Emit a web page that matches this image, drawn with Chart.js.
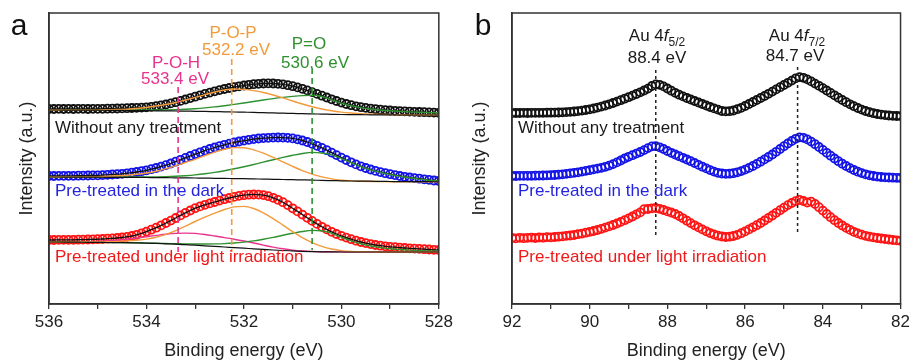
<!DOCTYPE html>
<html><head><meta charset="utf-8">
<script src="https://cdn.jsdelivr.net/npm/chart.js@4.4.1/dist/chart.umd.min.js"></script>
<style>
html,body{margin:0;padding:0;background:#fff;width:913px;height:362px;overflow:hidden}
#wa{position:absolute;left:0;top:0;width:456px;height:362px}
#wb{position:absolute;left:456px;top:0;width:457px;height:362px}
</style></head><body>
<div id="wa"><canvas id="ca" width="456" height="362"></canvas></div>
<div id="wb"><canvas id="cb" width="457" height="362"></canvas></div>
<script>
// ---------- Panel a : O 1s (536 -> 528 eV) ----------
const A_START = 536, A_END = 528, A_STEP = 0.1, A_FIT_STEP = 0.2;
const aBlack = [
195.0,195.0,195.1,195.0,195.1,195.0,195.1,195.1,195.0,195.1,
195.1,195.2,195.3,195.4,195.5,195.6,195.8,196.0,196.2,196.4,
196.7,197.2,197.8,198.6,199.5,200.6,201.8,203.1,204.5,205.9,
207.3,208.7,210.1,211.4,212.7,213.9,215.0,216.0,216.9,217.7,
218.5,219.2,219.8,220.2,220.5,220.6,220.5,220.2,219.6,218.8,
217.8,216.6,215.2,213.6,211.9,210.1,208.3,206.5,204.7,203.0,
201.4,200.0,198.8,197.7,196.8,196.1,195.4,194.8,194.3,193.9,
193.5,193.2,192.9,192.6,192.4,192.2,192.0,191.8,191.6,191.4,
191.2];
const aBlue = [
128.0,128.0,128.1,128.1,128.2,128.2,128.3,128.4,128.5,128.6,
128.7,128.9,129.2,129.5,129.8,130.2,130.7,131.3,132.0,132.8,
133.7,134.8,136.0,137.4,138.9,140.5,142.3,144.2,146.1,148.0,
149.9,151.7,153.4,155.0,156.5,157.9,159.2,160.4,161.5,162.5,
163.4,164.2,164.9,165.5,165.9,166.2,166.4,166.5,166.4,166.1,
165.6,164.7,163.5,162.0,160.2,158.2,156.1,153.8,151.4,148.9,
146.4,144.0,141.7,139.6,137.7,136.0,134.5,133.1,131.9,130.8,
129.8,128.9,128.0,127.2,126.5,125.9,125.3,124.7,124.1,123.5,
123.0];
const aRed = [
64.0,64.0,64.1,64.1,64.2,64.2,64.3,64.4,64.5,64.6,
64.8,65.0,65.3,65.6,66.0,66.5,67.1,68.0,69.2,70.7,
72.4,74.3,76.3,78.6,81.0,83.4,86.0,88.6,91.1,93.5,
95.8,97.6,99.2,100.6,102.0,103.4,104.8,106.0,107.1,108.1,
108.8,109.3,109.5,109.4,108.9,107.8,106.2,104.2,101.8,98.9,
95.7,92.6,89.4,86.2,83.1,80.1,77.2,74.6,72.2,70.0,
68.1,66.4,64.8,63.3,62.0,60.9,59.9,59.0,58.3,57.7,
57.2,56.8,56.4,56.0,55.7,55.4,55.1,54.8,54.5,54.2,
54.0];
// fitted components (0.2 eV grid)
const aBlackBg = [194.0,194.0,193.9,193.9,193.8, 193.8,193.7,193.6,193.5,193.4, 193.3,193.2,193.1,193.0,192.9, 192.7,192.6,192.4,192.2,192.0, 191.8,191.6,191.3,191.1,190.8, 190.6,190.3,190.1,189.9,189.7, 189.5,189.4,189.3,189.2,189.1, 189.1,189.0,189.0,189.0,189.0, 189.0];
const aBlackPOP = [194.0,194.0,194.0,194.0,194.1, 194.1,194.3,194.5,194.9,195.5, 196.5,198.0,199.5,201.5,204.0, 206.6,209.3,212.0,214.0,215.0, 214.6,213.4,211.5,209.0,206.1, 203.0,200.0,197.3,195.0,193.2, 191.9,191.0,190.3,189.9,189.6, 189.4,189.2,189.1,189.0,189.0, 189.0];
const aBlackPO = [194.0,194.0,194.0,194.0,194.0, 194.0,194.0,194.0,194.0,194.0, 194.0,194.0,194.1,194.3,194.7, 195.3,196.1,197.1,198.3,199.6, 201.0,202.5,204.0,205.4,206.6, 207.6,208.4,208.8,207.5,204.2, 200.8,198.3,196.4,195.0,194.0, 193.2,192.6,192.1,191.7,191.4, 191.2];
const aBlueBg = [127.0,127.0,126.9,126.9,126.8, 126.8,126.7,126.7,126.6,126.6, 126.5,126.4,126.3,126.2,126.1, 126.0,125.9,125.7,125.6,125.4, 125.3,125.1,124.9,124.7,124.5, 124.3,124.1,123.9,123.6,123.4, 123.2,123.0,122.9,122.8,122.6, 122.5,122.4,122.4,122.3,122.3, 122.2];
const aBluePOP = [127.0,127.0,127.0,127.1,127.2, 127.4,127.7,128.2,128.8,129.7, 131.0,132.8,135.3,138.3,141.5, 144.7,148.4,151.9,154.8,156.4, 156.3,154.2,150.8,146.6,142.1, 137.6,133.4,129.9,127.1,125.1, 123.8,123.1,122.7,122.5,122.4, 122.3,122.2,122.2,122.2,122.2, 122.2];
const aBluePO = [127.0,127.0,127.0,127.0,127.0, 127.0,127.0,127.0,127.0,127.0, 127.0,127.1,127.3,127.7,128.3, 129.1,130.2,131.6,133.3,135.2, 137.3,139.5,141.9,144.3,146.6, 148.7,150.5,151.6,151.0,149.2, 145.6,141.3,137.4,134.2,131.6, 129.5,127.8,126.2,124.9,123.8, 122.9];
const aRedBg = [62.0,62.0,61.9,61.8,61.7, 61.6,61.5,61.4,61.3,61.1, 60.9,60.6,60.2,59.8,59.3, 58.8,58.2,57.6,57.0,56.4, 55.8,55.2,54.6,54.0,53.5, 53.1,52.7,52.4,52.2,52.1, 52.0,52.0,52.0,52.0,52.0, 52.0,52.0,52.0,52.0,52.0, 52.0];
const aRedPOP = [62.0,62.0,62.0,62.0,62.0, 62.1,62.3,62.6,63.1,63.8, 64.9,66.8,69.6,73.3,77.8, 82.5,86.8,90.8,94.5,97.1, 97.6,95.5,91.2,85.4,78.9, 72.3,66.3,61.3,57.6,55.0, 53.4,52.6,52.2,52.1,52.0, 52.0,52.0,52.0,52.0,52.0, 52.0];
const aRedPO = [62.0,62.0,61.9,61.8,61.7, 61.6,61.5,61.4,61.3,61.1, 60.9,60.7,60.5,60.3,60.1, 60.0,60.0,60.1,60.4,61.0, 61.9,63.1,64.7,66.6,68.7, 70.7,72.5,73.6,73.3,70.7, 66.8,63.2,60.3,58.0,56.4, 55.3,54.5,53.9,53.4,53.0, 52.7];
const aRedPOH = [62.0,62.0,62.0,62.1,62.3, 62.6,63.1,63.8,64.8,66.0, 67.3,68.6,69.8,70.6,70.9, 70.6,69.5,68.0,66.4,64.8, 63.0,61.0,58.9,56.9,55.2, 53.9,53.1,52.6,52.3,52.2, 52.1,52.0,52.0,52.0,52.0, 52.0,52.0,52.0,52.0,52.0, 52.0];
// peak position markers (eV) and their vertical extent
const aPeakPOH = 533.35, aPeakPOP = 532.25, aPeakPO = 530.6;
const aMarkPOH = [217, 52], aMarkPOP = [245, 52], aMarkPO = [236, 54];

// ---------- Panel b : Au 4f (92 -> 82 eV) ----------
const B_START = 92, B_END = 82, B_STEP = 0.1;
const bBlack = [
191.0,191.0,191.0,191.1,191.0,191.1,191.1,191.2,191.2,191.3,
191.3,191.4,191.5,191.7,191.9,192.2,192.5,192.9,193.4,194.0,
194.7,195.5,196.4,197.4,198.5,199.7,201.0,202.4,203.8,205.3,
206.8,208.4,210.0,211.7,213.5,215.4,218.0,219.6,219.2,217.6,
215.5,213.3,211.2,209.3,207.6,206.0,204.5,203.0,201.5,200.0,
198.5,197.0,195.6,194.4,193.0,192.6,192.8,193.5,194.8,196.2,
198.0,200.0,202.0,204.0,206.0,208.0,210.2,212.4,214.6,216.8,
219.0,221.2,223.4,225.6,226.8,226.2,224.6,222.6,220.4,218.2,
215.9,213.5,211.1,208.7,206.3,204.0,201.8,199.7,197.8,196.0,
194.4,193.0,191.8,190.8,190.0,189.4,188.9,188.5,188.2,188.0,
187.9];
const bBlue = [
128.0,128.0,128.1,128.1,128.2,128.2,128.3,128.4,128.5,128.6,
128.8,129.0,129.3,129.7,130.1,130.6,131.1,131.7,132.4,133.1,
133.8,134.6,135.4,136.2,137.2,138.4,139.9,141.6,143.5,145.5,
147.2,148.8,150.4,152.0,153.9,155.9,157.6,157.8,156.7,155.0,
153.0,151.2,149.5,147.8,146.2,144.5,142.8,141.0,139.1,137.3,
135.6,133.9,132.4,131.2,130.5,130.2,130.3,130.8,131.7,132.9,
134.4,136.1,138.0,140.1,142.3,144.6,147.0,149.5,152.2,155.0,
157.8,160.5,163.0,165.2,166.6,166.2,164.6,162.4,159.8,157.0,
154.1,151.2,148.3,145.5,142.8,140.3,138.0,135.9,134.0,132.3,
130.9,129.7,128.7,128.0,127.4,127.0,126.7,126.5,126.3,126.2,
126.0];
const bRed = [
66.0,65.6,66.2,65.8,66.1,66.4,66.0,66.5,66.3,66.8,
66.6,67.0,67.3,67.6,68.2,68.5,69.0,69.8,70.4,71.3,
72.1,73.0,74.0,75.2,76.4,77.6,79.0,80.5,82.1,83.8,
85.6,87.5,89.6,91.6,94.8,95.0,95.6,96.0,95.2,94.0,
92.6,91.5,90.0,88.0,85.7,83.3,80.9,78.7,76.6,74.6,
72.7,70.9,69.5,68.3,67.5,67.0,67.3,68.0,69.2,70.8,
72.6,74.6,76.7,78.8,81.0,83.5,86.0,88.5,91.2,93.8,
96.4,98.9,101.0,102.8,104.2,103.0,101.5,102.4,100.0,96.8,
93.4,90.0,86.8,83.8,81.0,78.5,76.2,74.1,72.2,70.6,
69.3,68.2,67.3,66.6,66.0,65.5,65.0,64.5,64.0,63.6,
63.2];
const bPeak52 = 88.3, bPeak72 = 84.65;
const bMark52 = [234, 69], bMark72 = [237, 71];

// ---------- helpers ----------
function energyGrid(start, end, step){
  const n = Math.round((start - end) / step) + 1, out = [];
  for (let i = 0; i < n; i++) out.push(+(start - i * step).toFixed(2));
  return out;
}
const pts = (xs, ys) => xs.map((x, i) => ({x, y: ys[i]}));
const COL = {black:'#111111', blue:'#1414E6', red:'#FF1414', orange:'#F39A3B', green:'#2E9130', pink:'#E8338E'};
function scatterDs(xs, ys, color, order){
  return {data: pts(xs, ys), showLine:false, pointRadius:4, pointBorderWidth:1.8, pointStyle:'circle',
    pointBorderColor:color, pointBackgroundColor:'rgba(255,255,255,0)', borderColor:color, order};
}
function curveDs(xs, ys, color, width, order){
  return {data: pts(xs, ys), borderColor:color, borderWidth:width, pointRadius:0, fill:false,
    cubicInterpolationMode:'monotone', order};
}
function markDs(x, ext, color, dash, width){
  return {data:[{x, y:ext[0]}, {x, y:ext[1]}], borderColor:color, borderWidth:width, borderDash:dash,
    pointRadius:0, fill:false, tension:0, order:0};
}

function drawRich(ctx, parts, cx, cy, align){
  let w = 0;
  parts.forEach(p => { ctx.font = (p.italic ? 'italic ' : '') + p.size + 'px "Liberation Sans", Arial, sans-serif'; p.w = ctx.measureText(p.t).width; w += p.w; });
  let x = align === 'left' ? cx : cx - w / 2;
  ctx.textAlign = 'left'; ctx.textBaseline = 'alphabetic';
  parts.forEach(p => {
    ctx.font = (p.italic ? 'italic ' : '') + p.size + 'px "Liberation Sans", Arial, sans-serif';
    ctx.fillStyle = p.color;
    ctx.fillText(p.t, x, cy + (p.dy || 0));
    x += p.w;
  });
}

const decoPlugin = {
  id: 'deco',
  afterDraw(chart, args, opts){
    const ctx = chart.ctx, a = chart.chartArea;
    ctx.save();
    ctx.strokeStyle = '#333'; ctx.lineWidth = 1.5;
    ctx.strokeRect(a.left, a.top, a.right - a.left, a.bottom - a.top);
    (opts.texts || []).forEach(t => drawRich(ctx, t.parts, t.x, t.y, t.align));
    ctx.restore();
  }
};

Chart.defaults.font.family = '"Liberation Sans", Arial, sans-serif';

function baseOptions(xmin, xmax, yTitlePad, leftW, rightPad, texts){
  return {
    responsive:false, animation:false, devicePixelRatio:1,
    layout:{padding:{left:0, right:rightPad, top:13, bottom:0}},
    plugins:{legend:{display:false}, tooltip:{enabled:false}, deco:{texts}},
    scales:{
      x:{type:'linear', reverse:true, min:xmin, max:xmax,
        afterFit(s){ s.height = 58; },
        ticks:{stepSize:1, autoSkip:false, maxRotation:0, padding:3, color:'#222', font:{size:17},
          callback:v => (v % 2 === 0 ? String(v) : '')},
        grid:{display:true, drawOnChartArea:false, drawTicks:true, tickLength:5, color:'#333', lineWidth:1.3},
        border:{display:true, color:'#333', width:1.5},
        title:{display:true, text:'Binding energy (eV)', color:'#222', font:{size:18}, padding:{top:0, bottom:0}}},
      y:{type:'linear', min:0, max:291,
        afterFit(s){ s.width = leftW; },
        ticks:{display:false}, grid:{display:false},
        border:{display:true, color:'#333', width:1.5},
        title:{display:true, text:'Intensity (a.u.)', color:'#222', font:{size:18}, padding:{top:yTitlePad, bottom:0}}}
    }
  };
}

// ---------- chart a ----------
const eA = energyGrid(A_START, A_END, A_STEP);
const eAf = energyGrid(A_START, A_END, A_FIT_STEP);
const T = (t, color, size, extra) => Object.assign({t, color, size}, extra || {});
const textsA = [
  {x:19, y:35, parts:[T('a', '#111', 30)]},
  {x:233, y:38, parts:[T('P-O-P', COL.orange, 17)]},
  {x:236, y:55, parts:[T('532.2 eV', COL.orange, 17)]},
  {x:309, y:49, parts:[T('P=O', COL.green, 17)]},
  {x:315, y:68, parts:[T('530.6 eV', COL.green, 17)]},
  {x:176, y:68, parts:[T('P-O-H', COL.pink, 17)]},
  {x:175, y:84, parts:[T('533.4 eV', COL.pink, 17)]},
  {x:55, y:133, align:'left', parts:[T('Without any treatment', '#1a1a1a', 17)]},
  {x:55, y:196, align:'left', parts:[T('Pre-treated in the dark', '#2323E0', 17)]},
  {x:55, y:262, align:'left', parts:[T('Pre-treated under light irradiation', '#F01818', 17)]}
];
new Chart(document.getElementById('ca'), {
  type:'line',
  data:{datasets:[
    markDs(aPeakPOH, aMarkPOH, COL.pink, [6,4], 1.6),
    markDs(aPeakPOP, aMarkPOP, COL.orange, [6,4], 1.6),
    markDs(aPeakPO, aMarkPO, COL.green, [6,4], 1.6),
    curveDs(eAf, aBlackBg, '#111', 1.2, 1), curveDs(eAf, aBlackPOP, COL.orange, 1.4, 1), curveDs(eAf, aBlackPO, COL.green, 1.4, 1),
    curveDs(eAf, aBlueBg, '#111', 1.2, 1), curveDs(eAf, aBluePOP, COL.orange, 1.4, 1), curveDs(eAf, aBluePO, COL.green, 1.4, 1),
    curveDs(eAf, aRedBg, '#111', 1.2, 1), curveDs(eAf, aRedPOP, COL.orange, 1.4, 1), curveDs(eAf, aRedPO, COL.green, 1.4, 1), curveDs(eAf, aRedPOH, COL.pink, 1.4, 1),
    curveDs(eA, aBlack, '#111', 1.3, 2), curveDs(eA, aBlue, '#111', 1.3, 2), curveDs(eA, aRed, '#111', 1.3, 2),
    scatterDs(eA, aBlack, COL.black, 3), scatterDs(eA, aBlue, COL.blue, 3), scatterDs(eA, aRed, COL.red, 3)
  ]},
  options: baseOptions(A_END, A_START, 16, 49, 16, textsA),
  plugins:[decoPlugin]
});

// ---------- chart b ----------
const eB = energyGrid(B_START, B_END, B_STEP);
const textsB = [
  {x:27, y:35, parts:[T('b', '#111', 30)]},
  {x:201, y:41, parts:[T('Au 4', '#1a1a1a', 17), T('f', '#1a1a1a', 17, {italic:true}), T('5/2', '#1a1a1a', 12, {dy:5})]},
  {x:201, y:63, parts:[T('88.4 eV', '#1a1a1a', 17)]},
  {x:341, y:41, parts:[T('Au 4', '#1a1a1a', 17), T('f', '#1a1a1a', 17, {italic:true}), T('7/2', '#1a1a1a', 12, {dy:5})]},
  {x:339, y:61, parts:[T('84.7 eV', '#1a1a1a', 17)]},
  {x:62, y:133, align:'left', parts:[T('Without any treatment', '#1a1a1a', 17)]},
  {x:62, y:196, align:'left', parts:[T('Pre-treated in the dark', '#2323E0', 17)]},
  {x:62, y:262, align:'left', parts:[T('Pre-treated under light irradiation', '#F01818', 17)]}
];
new Chart(document.getElementById('cb'), {
  type:'line',
  data:{datasets:[
    markDs(bPeak52, bMark52, '#222', [3,3], 1.5),
    markDs(bPeak72, bMark72, '#222', [3,3], 1.5),
    scatterDs(eB, bBlack, COL.black, 3), scatterDs(eB, bBlue, COL.blue, 3), scatterDs(eB, bRed, COL.red, 3)
  ]},
  options: baseOptions(B_END, B_START, 13, 56, 10, textsB),
  plugins:[decoPlugin]
});
</script>
</body></html>
